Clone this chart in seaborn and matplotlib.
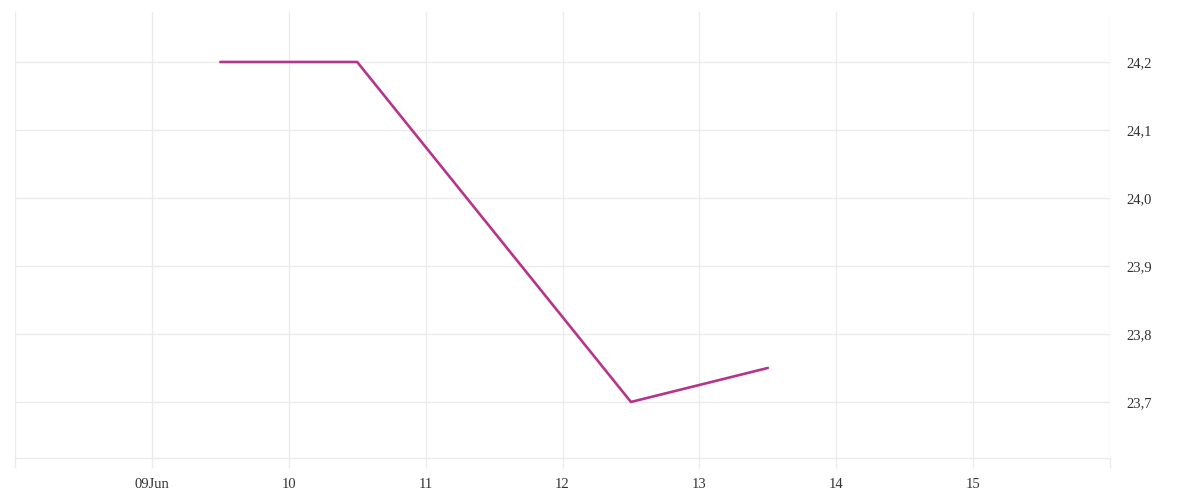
import pandas as pd
import numpy as np
import matplotlib
matplotlib.use('Agg')
import matplotlib.pyplot as plt
import matplotlib.dates as mdates
import seaborn as sns

# Data (points sit at midday)
timestamps = ['2024-06-09 12:00', '2024-06-10 12:00', '2024-06-12 12:00', '2024-06-13 12:00']
values = [24.2, 24.2, 23.7, 23.75]
x_tick_days = ['2024-06-09', '2024-06-10', '2024-06-11', '2024-06-12',
               '2024-06-13', '2024-06-14', '2024-06-15']
x_tick_labels = ['09Jun', '10', '11', '12', '13', '14', '15']
y_ticks = [23.7, 23.8, 23.9, 24.0, 24.1, 24.2]

df = pd.DataFrame({'date': pd.to_datetime(timestamps), 'value': values})

sns.set_theme(style='white')
plt.rcParams['font.family'] = ['Liberation Serif', 'DejaVu Serif']

grid_col = '#ebebeb'
line_col = '#b5358c'

fig = plt.figure(figsize=(12, 5), dpi=100)
ax = fig.add_axes([0.0125, 0.084, 0.9125, 0.892])

sns.lineplot(data=df, x='date', y='value', color=line_col, linewidth=1.9, ax=ax)

ax.set_xlim(pd.Timestamp('2024-06-08'), pd.Timestamp('2024-06-16'))
ax.set_ylim(23.6176, 24.2735)

# vertical grid every day, labels only on the inner days
all_days = pd.date_range('2024-06-08', '2024-06-16', freq='D')
ax.set_xticks(all_days)
lab_map = dict(zip(pd.to_datetime(x_tick_days), x_tick_labels))
ax.set_xticklabels([lab_map.get(d, '') for d in all_days])
ax.set_yticks(y_ticks)
ax.set_yticklabels([f'{v:.1f}'.replace('.', ',') for v in y_ticks])

ax.yaxis.tick_right()
ax.grid(True, color=grid_col, linewidth=1)
ax.tick_params(axis='x', bottom=True, length=7.2, width=1, color=grid_col, pad=7,
               labelsize=10.5, labelcolor='#333333')
ax.tick_params(axis='y', length=0, pad=12, labelsize=10.5, labelcolor='#333333')
for side in ['top', 'left', 'right']:
    ax.spines[side].set_visible(False)
ax.spines['bottom'].set_color(grid_col)
ax.spines['bottom'].set_linewidth(1)
ax.set_xlabel('')
ax.set_ylabel('')

fig.savefig('out.png', dpi=100)
plt.close()
